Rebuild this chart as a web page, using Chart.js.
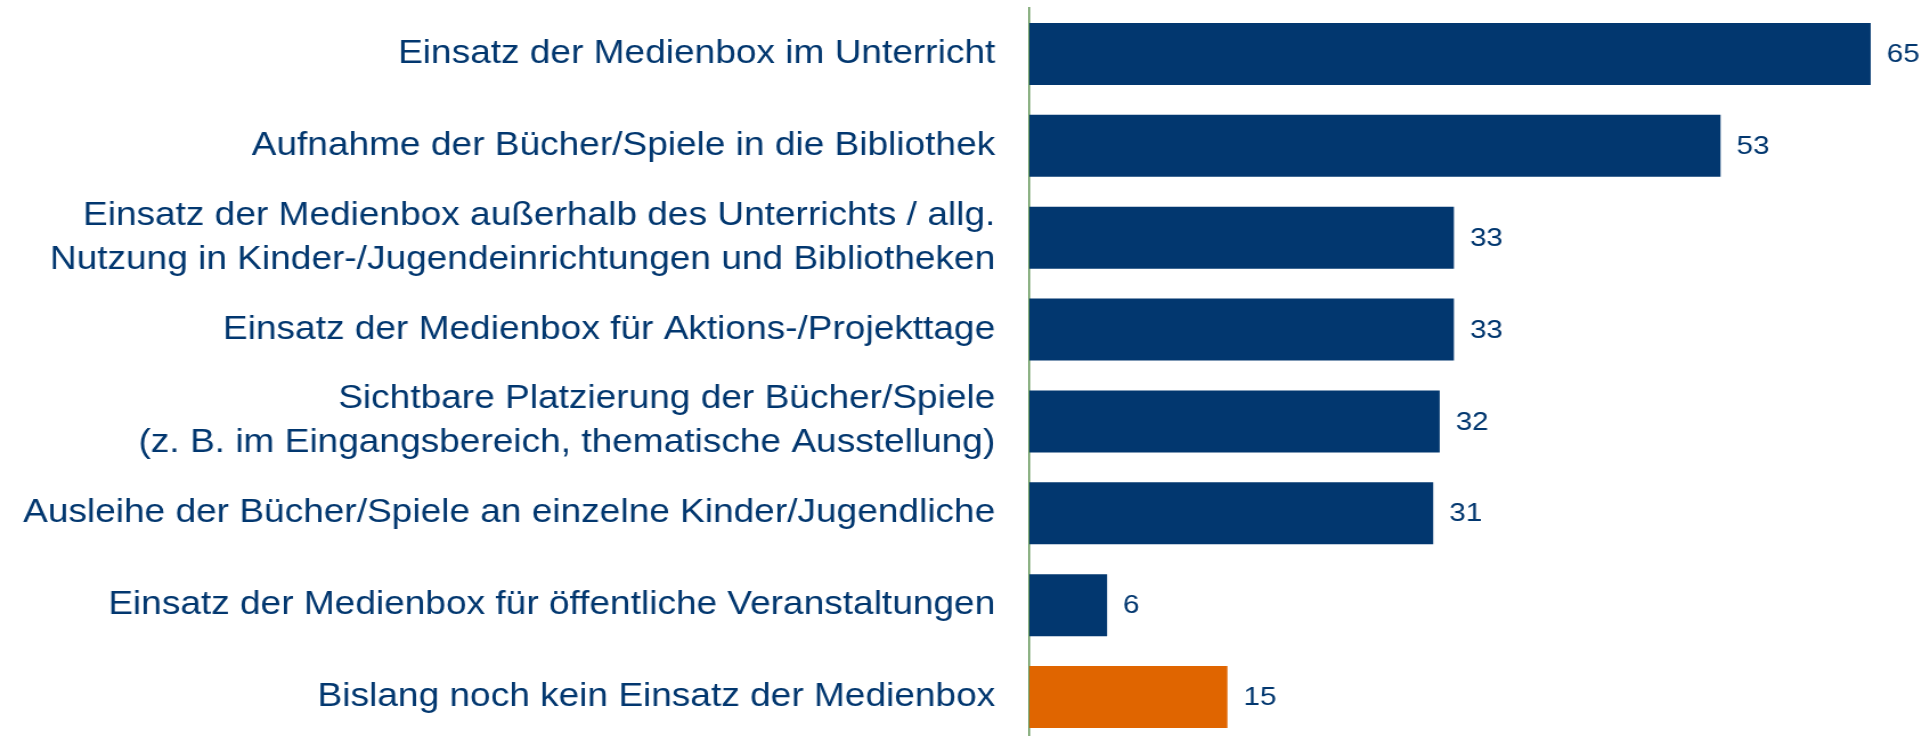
<!DOCTYPE html>
<html>
<head>
<meta charset="utf-8">
<script src="https://cdn.jsdelivr.net/npm/chart.js@4/dist/chart.umd.min.js"></script>
<style>
  html, body { margin: 0; padding: 0; background: #fff; overflow: hidden; }
  #wrap {
    position: absolute; left: 0; top: 0;
    width: 1685px; height: 743px;
    transform: scaleX(1.14); transform-origin: 0 0;
  }
</style>
</head>
<body>
<div id="wrap"><canvas id="myChart"></canvas></div>
<script>
/* input values (percent, labels shown rounded) */
var categories = [
  "Einsatz der Medienbox im Unterricht",
  "Aufnahme der Bücher/Spiele in die Bibliothek",
  ["Einsatz der Medienbox außerhalb des Unterrichts / allg.", "Nutzung in Kinder-/Jugendeinrichtungen und Bibliotheken"],
  "Einsatz der Medienbox für Aktions-/Projekttage",
  ["Sichtbare Platzierung der Bücher/Spiele", "(z. B. im Eingangsbereich, thematische Ausstellung)"],
  "Ausleihe der Bücher/Spiele an einzelne Kinder/Jugendliche",
  "Einsatz der Medienbox für öffentliche Veranstaltungen",
  "Bislang noch kein Einsatz der Medienbox"
];
var values = [65, 53.4, 32.8, 32.8, 31.7, 31.2, 6, 15.3];
var highlighted = ["Bislang noch kein Einsatz der Medienbox"];

var blue = "#02376F";
var orange = "#E06500";
var font = "'Liberation Sans', Arial, sans-serif";

/* value labels at the bar ends */
var valueLabels = {
  id: "valueLabels",
  afterDatasetsDraw: function (chart) {
    var ctx = chart.ctx;
    var meta = chart.getDatasetMeta(0);
    ctx.save();
    ctx.fillStyle = blue;
    ctx.font = "26px " + font;
    ctx.textAlign = "left";
    ctx.textBaseline = "middle";
    meta.data.forEach(function (bar, i) {
      ctx.fillText(Math.round(values[i]), bar.x + 14, bar.y + 1);
    });
    ctx.restore();
  }
};

new Chart(document.getElementById("myChart"), {
  type: "bar",
  data: {
    labels: categories,
    datasets: [
      {
        data: values,
        backgroundColor: function (c) {
          var lbl = categories[c.dataIndex];
          return highlighted.indexOf(lbl) >= 0 ? orange : blue;
        },
        categoryPercentage: 1,
        barPercentage: 0.675
      }
    ]
  },
  options: {
    indexAxis: "y",
    responsive: true,
    maintainAspectRatio: false,
    animation: false,
    layout: { padding: { top: 8, right: 10, bottom: 0, left: 0 } },
    plugins: {
      legend: { display: false },
      tooltip: { enabled: false }
    },
    scales: {
      x: { display: false, min: 0, max: 68 },
      y: {
        afterFit: function (scale) {
          scale.width = 903;
          scale.paddingTop = 0;
          scale.paddingBottom = 0;
        },
        grid: { display: true, color: "transparent", drawTicks: false },
        border: { display: true, color: "#5f9353", width: 1.5 },
        ticks: {
          color: blue,
          padding: 30,
          font: { family: font, size: 32.5, lineHeight: 1.35 }
        }
      }
    }
  },
  plugins: [valueLabels]
});
</script>
</body>
</html>
